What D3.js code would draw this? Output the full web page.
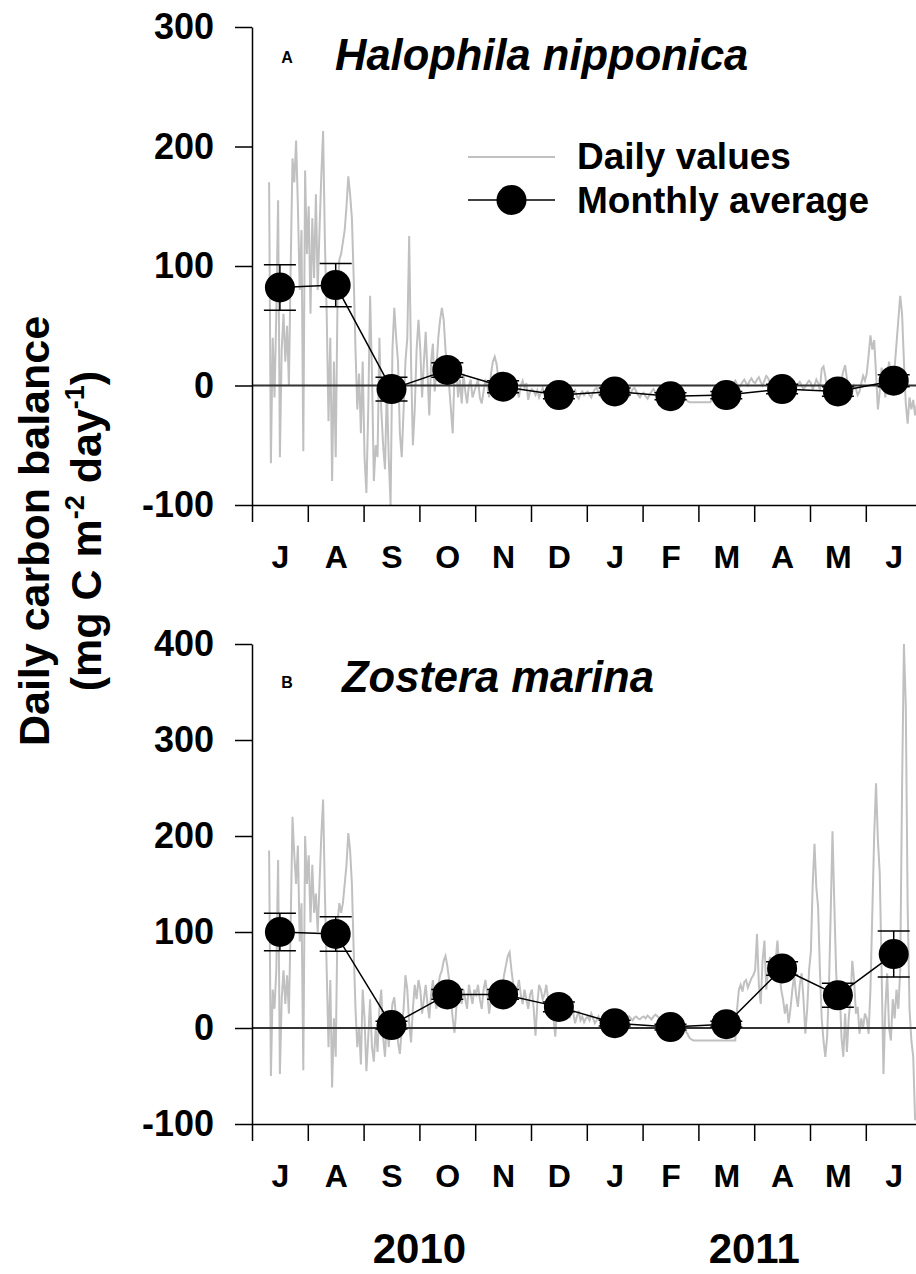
<!DOCTYPE html>
<html>
<head>
<meta charset="utf-8">
<script src="https://cdn.jsdelivr.net/npm/d3@7"></script>
<style>
    body { margin: 0; background: #fff; }
    svg { display: block; font-family: Arial, 'Liberation Sans', sans-serif; font-weight: bold; }
</style>
</head>
<body>
<div id="chart"></div>
<script>
// month axis, Jul 2010 .. Jun 2011
const months = ['J', 'A', 'S', 'O', 'N', 'D', 'J', 'F', 'M', 'A', 'M', 'J'];
const monthDays = [31, 31, 30, 31, 30, 31, 31, 28, 31, 30, 31, 30];
const monthYears = [2010, 2010, 2010, 2010, 2010, 2010, 2011, 2011, 2011, 2011, 2011, 2011];

const ticksA = [-100, 0, 100, 200, 300];
const ticksB = [-100, 0, 100, 200, 300, 400];

// daily values start on 10 July 2010
const dailyStartDay = 10;

const dailyA = [
    170, -65, 40, -10, 60, 155, -60, 30, 60, 20, 50, 0, 100, 190, 170, 205, 150, 80, 130, -55, 180, 110,
    150, 60, 140, 90, 160, 80, 130, 175, 213, 120, 60, -30, 40, -80, 20, -60, 70, 105, 110, 120, 130, 150, 175, 160, 140, 90, 30, -20, 10, -40, 20,
    -60, -90, -20, 75, 10, -80, -50, -60, 40, -20, -50, -70, 0, -60, -100, 30, 65, 40, 20, -40, -60, -20, 20, 40, 125, 20, -50, -20, 30, 55,
    30, -10, 20, 45, 10, -25, 20, 35, -5, 15, 40, 55, 65, 55, 30, 15, 0, -20, -40, 10, 15, -10, 5, -15, 10, -5, -15, 0, 5, -10, -5,
    0, 5, -10, -15, -5, 5, 0, -10, 10, 20, 24, 18, 5, -5, 0, -8, 5, 0, -5, 2, -3, 3, -2, -10, 0, 4, -2, 2, -12, -5,
    -3, -5, -8, -4, -10, -6, -2, -8, -12, -6, -3, -5, -10, -8, -4, -6, -9, -12, -7, -3, -5, -8, -10, -6, -4, -9, -11, -7, -5, -8, -6,
    -5, -8, -10, -6, -3, -2, -6, -9, -5, -1, -3, -7, -10, -8, -4, -2, -5, -8, -6, -3, -1, -4, -7, -9, -6, -3, -2, -5, -8, -10, -7,
    -6, -9, -11, -8, -5, -3, -6, -9, -12, -10, -7, -4, -6, -9, -11, -8, -6, -9, -12, -10, -8, -11, -13, -14, -14, -14, -14, -14,
    -14, -14, -14, -14, -14, -14, -14, -12, -8, -5, -3, -1, 0, -2, 1, 3, 2, -1, 0, 2, 4, 1, -2, 0, 3, 5, 2, 0, 4, 6, 3,
    2, 5, 7, 3, 0, 4, 8, 6, 2, -1, 3, 5, 1, -3, 0, 4, 2, -2, 1, 3, 0, -4, -2, 1, 3, 0, -3, -1, 2, 4,
    2, -3, 0, 5, 2, -4, 14, 16, 8, -5, -8, 0, 3, -2, -6, -3, 2, 5, 12, 17, 6, -4, -10, -6, 0, -3, -8, -5, 2, 8, 4,
    10, 25, 42, 30, 38, 10, -20, -5, 15, 5, -10, 8, 20, 10, 0, 15, 35, 55, 75, 60, 20, -15, -32, -10, -20, -12, -25, -15,
];

const dailyB = [
    185, -50, 40, 20, 60, 175, -48, 30, 60, 25, 55, 15, 110, 220, 180, 150, 190, 90, 130, -44, 200, 150,
    180, 110, 170, 120, 140, 100, 150, 200, 238, 140, 60, -20, 50, -62, 10, -30, 110, 130, 120, 130, 150, 170, 203, 185, 150, 80, 20, -20, 0, -38, 40,
    10, -45, -10, 30, -20, -35, 0, -25, 20, 40, -10, -30, 10, -20, 5, 25, 32, 10, -15, -27, 0, 20, 55, 40, 5, -15, 20, 45, 30, 50,
    40, 15, 30, 45, 25, 10, 35, 50, 30, 20, 45, 55, 60, 70, 75, 65, 50, 30, 10, -5, 20, 45, 35, 25, 40, 30, 20, 45, 35, 25, 40,
    35, 45, 30, 20, 40, 50, 35, 15, 30, 45, 35, 25, 40, 50, 40, 55, 65, 75, 79, 60, 45, 30, 40, 50, 35, 25, 40, 30, 20, 35,
    40, 20, -8, 25, 45, 40, 30, 35, 45, 30, 20, 35, 10, -9, 20, 30, 25, 35, 20, 15, 25, 10, 20, 15, 5, 12, 18, 8, 12, 6, 10,
    12, 8, 15, 10, 5, 8, 12, 6, 10, 14, 8, 4, 7, 10, 12, 9, 6, 8, 11, 13, 10, 7, 9, 12, 10, 8, 11, 12, 10, 9, 11,
    12, 10, 13, 11, 9, 12, 14, 12, 10, 8, 6, 5, 4, 3, 2, 0, -2, 2, 5, 3, 0, -3, -6, -10, -12, -13, -13, -13,
    -13, -13, -13, -13, -13, -13, -13, -13, -13, -13, -13, -13, -13, -13, -13, -13, -13, -13, -13, -13, -13, 20, 40, 45, 38, 48, 50, 42, 47, 52, 55,
    60, 98, 45, 25, 70, 91, 40, 60, 74, 57, 65, 70, 91, 60, 40, 30, 15, 25, 5, 20, 40, 55, 35, 22, 45, 57, 30, -6, 20, 60,
    80, 150, 192, 147, 126, 60, 10, -13, -30, -10, 40, 120, 205, 130, 60, 20, 39, -10, -30, 15, -25, 10, 30, 70, 50, 15, 22, -6, 10, 0, 15,
    10, -6, 40, 120, 200, 255, 196, 161, 60, -48, 20, 57, 0, -13, 30, 10, 40, 20, 60, 250, 400, 335, 126, 20, -13, -30, -96, -90,
];

const monthlyA = [82, 84, -3, 13, -1, -8, -5, -9, -8, -3, -5, 4];
const errorA = [19, 18, 10, 6, 5, 3, 3, 3, 3, 4, 4, 5];
const monthlyB = [100, 98, 3, 35, 35, 22, 5, 1, 4, 62, 34, 77];
const errorB = [19.5, 18, 4, 5, 5, 5, 3, 3, 3, 7, 12.5, 24];

const width = 916;
const height = 1274;
const monthWidth = 55.8;
const left = 252;

const svg = d3.select('#chart').append('svg')
    .attr('width', width)
    .attr('height', height);

const x = d3.scaleLinear()
    .domain([0, 12])
    .range([left, left + 12 * monthWidth]);

// turn the daily list into fractional month positions
function dailyPoints(values) {
    const pts = [];
    let m = 0;
    let d = dailyStartDay;
    values.forEach((v) => {
        pts.push({ t: m + (d - 0.5) / monthDays[m], v: v });
        d += 1;
        if (d > monthDays[m]) {
            d = 1;
            m += 1;
        }
    });
    return pts;
}

const panels = [
    {
        letter: 'A', title: 'Halophila nipponica', titleX: 335, titleY: 70, letterY: 63,
        top: 27, bottom: 505, domain: [-100, 300], ticks: ticksA,
        daily: dailyA, monthly: monthlyA, error: errorA, legend: true,
    },
    {
        letter: 'B', title: 'Zostera marina', titleX: 342, titleY: 692, letterY: 688,
        top: 644, bottom: 1124, domain: [-100, 400], ticks: ticksB,
        daily: dailyB, monthly: monthlyB, error: errorB, legend: false,
    },
];

panels.forEach((p) => {
    const y = d3.scaleLinear().domain(p.domain).range([p.bottom, p.top]);
    const g = svg.append('g');

    // daily values
    g.append('path')
        .datum(dailyPoints(p.daily))
        .attr('fill', 'none')
        .attr('stroke', '#c0c0c0')
        .attr('stroke-width', 2)
        .attr('d', d3.line().x((d) => x(d.t)).y((d) => y(d.v)));

    // zero line
    g.append('line')
        .attr('x1', left)
        .attr('x2', width)
        .attr('y1', y(0))
        .attr('y2', y(0))
        .attr('stroke', '#333')
        .attr('stroke-width', 2);

    // monthly averages
    const monthly = p.monthly.map((v, i) => ({ t: i + 0.5, v: v, e: p.error[i] }));
    g.append('path')
        .datum(monthly)
        .attr('fill', 'none')
        .attr('stroke', '#000')
        .attr('stroke-width', 1.5)
        .attr('d', d3.line().x((d) => x(d.t)).y((d) => y(d.v)));

    const bars = g.selectAll('.err')
        .data(monthly)
        .enter()
        .append('g')
        .attr('class', 'err')
        .attr('stroke', '#000')
        .attr('stroke-width', 1.5);
    bars.append('line')
        .attr('x1', (d) => x(d.t)).attr('x2', (d) => x(d.t))
        .attr('y1', (d) => y(d.v + d.e)).attr('y2', (d) => y(d.v - d.e));
    bars.append('line')
        .attr('x1', (d) => x(d.t) - 16).attr('x2', (d) => x(d.t) + 16)
        .attr('y1', (d) => y(d.v + d.e)).attr('y2', (d) => y(d.v + d.e));
    bars.append('line')
        .attr('x1', (d) => x(d.t) - 16).attr('x2', (d) => x(d.t) + 16)
        .attr('y1', (d) => y(d.v - d.e)).attr('y2', (d) => y(d.v - d.e));

    g.selectAll('.dot')
        .data(monthly)
        .enter()
        .append('circle')
        .attr('class', 'dot')
        .attr('cx', (d) => x(d.t))
        .attr('cy', (d) => y(d.v))
        .attr('r', 15)
        .attr('fill', '#000');

    // y axis, plain hyphen for negatives
    g.append('g')
        .attr('transform', `translate(${left},0)`)
        .call(d3.axisLeft(y).tickValues(p.ticks).tickSize(17).tickPadding(21).tickSizeOuter(0)
            .tickFormat((d) => String(d)))
        .call((a) => a.attr('font-family', null).attr('font-size', null))
        .call((a) => a.selectAll('line, path').attr('stroke', '#000').attr('stroke-width', 1.5))
        .call((a) => a.selectAll('text').attr('font-size', '36px').attr('fill', '#000'));

    // x axis: month ticks, labels in the middle of each month
    g.append('g')
        .attr('transform', `translate(0,${p.bottom})`)
        .call(d3.axisBottom(x).tickValues(d3.range(12)).tickSize(17).tickSizeOuter(0).tickFormat(''))
        .call((a) => a.selectAll('line, path').attr('stroke', '#000').attr('stroke-width', 1.5));
    g.append('g')
        .attr('transform', `translate(0,${p.bottom})`)
        .call(d3.axisBottom(x).tickValues(d3.range(12).map((i) => i + 0.5)).tickSize(0).tickPadding(40)
            .tickFormat((d, i) => months[i]))
        .call((a) => a.attr('font-family', null).attr('font-size', null))
        .call((a) => a.select('.domain').remove())
        .call((a) => a.selectAll('text').attr('font-size', '32px').attr('fill', '#000'));

    // panel letter and species
    g.append('text')
        .attr('x', 287)
        .attr('y', p.letterY)
        .attr('text-anchor', 'middle')
        .attr('font-size', '16px')
        .text(p.letter);
    g.append('text')
        .attr('x', p.titleX)
        .attr('y', p.titleY)
        .attr('font-size', '43.5px')
        .attr('font-style', 'italic')
        .text(p.title);

    if (p.legend) {
        const lg = g.append('g');
        lg.append('line')
            .attr('x1', 468).attr('x2', 555).attr('y1', 157).attr('y2', 157)
            .attr('stroke', '#c0c0c0').attr('stroke-width', 2);
        lg.append('line')
            .attr('x1', 468).attr('x2', 555).attr('y1', 200).attr('y2', 200)
            .attr('stroke', '#000').attr('stroke-width', 1.5);
        lg.append('circle')
            .attr('cx', 511.5).attr('cy', 200).attr('r', 15).attr('fill', '#000');
        lg.append('text')
            .attr('x', 577).attr('y', 169).attr('font-size', '37px')
            .text('Daily values');
        lg.append('text')
            .attr('x', 577).attr('y', 213).attr('font-size', '37px')
            .text('Monthly average');
    }
});

// years under the bottom panel
const years = Array.from(d3.group(monthYears.map((yr, i) => ({ yr, i })), (d) => d.yr));
svg.selectAll('.year')
    .data(years)
    .enter()
    .append('text')
    .attr('class', 'year')
    .attr('x', (d) => x((d3.min(d[1], (e) => e.i) + d3.max(d[1], (e) => e.i) + 1) / 2))
    .attr('y', 1263)
    .attr('text-anchor', 'middle')
    .attr('font-size', '42px')
    .text((d) => d[0]);

// y axis title
const title = svg.append('g')
    .attr('transform', 'translate(0,531) rotate(-90)')
    .attr('text-anchor', 'middle')
    .attr('font-size', '43px');
title.append('text')
    .attr('x', 0)
    .attr('y', 49)
    .text('Daily carbon balance');
const t2 = title.append('text')
    .attr('x', 0)
    .attr('y', 101);
t2.append('tspan').text('(mg C m');
t2.append('tspan').attr('font-size', '27px').attr('dy', -17).text('-2');
t2.append('tspan').attr('dy', 17).text(' day');
t2.append('tspan').attr('font-size', '27px').attr('dy', -17).text('-1');
t2.append('tspan').attr('dy', 17).text(')');
</script>
</body>
</html>
